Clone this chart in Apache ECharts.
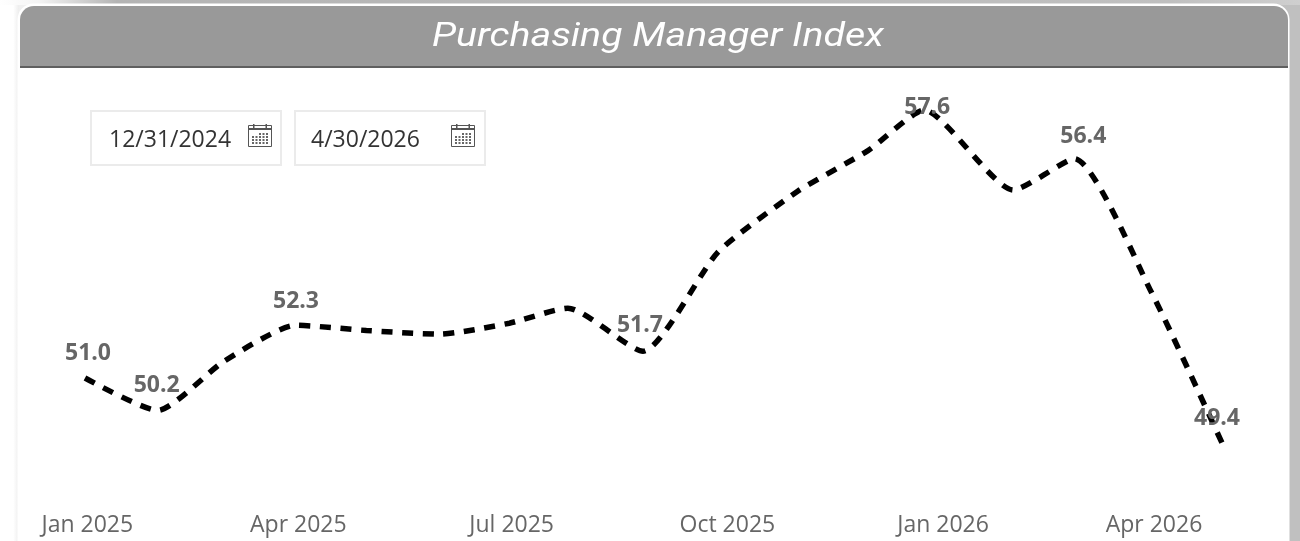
<!DOCTYPE html>
<html>
<head>
<meta charset="utf-8">
<style>html,body{margin:0;padding:0;background:#fff}#c{width:1300px;height:541px}</style>
<script src="https://cdn.jsdelivr.net/npm/echarts@6/dist/echarts.min.js"></script>
</head>
<body>
<div id="c"></div>
<script>
const titleText = 'Purchasing Manager Index';
const startDateText = '12/31/2024';
const endDateText = '4/30/2026';
const dates = ['2024-12-31','2025-01-31','2025-02-28','2025-03-31','2025-04-30','2025-05-31','2025-06-30','2025-07-25','2025-08-26','2025-09-27','2025-10-31','2025-11-30','2025-12-24','2026-01-31','2026-02-26','2026-03-31','2026-04-30'];
const values = [51.0,50.2,51.4,52.3,52.17,52.08,52.35,52.72,51.66,54.1,55.6,56.6,57.6,55.63,56.4,53.1,49.4];
const labelledDates = ['2024-12-31','2025-01-31','2025-03-31','2025-08-26','2025-12-24','2026-02-26','2026-04-30'];
const tickDates = ['2025-01-01','2025-04-01','2025-07-01','2025-10-01','2026-01-01','2026-04-01'];
const tickLabels = ['Jan 2025','Apr 2025','Jul 2025','Oct 2025','Jan 2026','Apr 2026'];
const ts = d => new Date(d + 'T00:00:00Z').getTime();
const tickMs = tickDates.map(ts);
const labelNudges = {'2024-12-31':[3,1],'2025-01-31':[-1,1],'2025-03-31':[0,2],'2025-08-26':[-3,0],'2025-12-24':[3,3],'2026-02-26':[9,4],'2026-04-30':[-5,1]};

const chart = echarts.init(document.getElementById('c'), null, {renderer:'canvas', width:1300, height:541});

function dateBox(x, text, iconX, textInset){
  const els = [
    {type:'rect', shape:{x:x+1,y:111,width:190,height:54}, style:{fill:'#fff',stroke:'#ebebeb',lineWidth:2}},
    {type:'text', style:{x:x+textInset,y:140,text:text,fill:'#333',font:'23px "Open Sans"',textVerticalAlign:'middle'}},
    {type:'rect', shape:{x:iconX+.5,y:125.5,width:23,height:21}, style:{fill:'#fff',stroke:'#555',lineWidth:1}},
    {type:'rect', shape:{x:iconX,y:128,width:24,height:2}, style:{fill:'#555'}},
    {type:'rect', shape:{x:iconX+5,y:124,width:1.5,height:4}, style:{fill:'#555'}},
    {type:'rect', shape:{x:iconX+17.5,y:124,width:1.5,height:4}, style:{fill:'#555'}}
  ];
  for(let r=0;r<4;r++)for(let c=0;c<5;c++){
    if(r===0&&c<2)continue;
    els.push({type:'rect',shape:{x:iconX+4+c*3.5,y:133+r*3,width:2,height:2},style:{fill:'#666'}});
  }
  return els;
}

const option = {
  animation:false,
  backgroundColor:'#fff',
  grid:{left:85,right:78,top:93.8,bottom:41.2},
  xAxis:{
    type:'value',
    min:ts(dates[0]),
    max:ts(dates[dates.length-1]),
    axisLine:{show:false},
    axisTick:{show:false},
    splitLine:{show:false},
    axisLabel:{
      customValues:tickMs,
      color:'#666',
      fontFamily:'"Open Sans"',
      fontSize:23,
      margin:14,
      hideOverlap:false,
      showMinLabel:true,
      showMaxLabel:true,
      formatter:v=>tickLabels[tickMs.indexOf(v)] || ''
    }
  },
  yAxis:{type:'value',min:48,max:58,show:false},
  series:[{
    type:'line',
    smooth:0.2,
    symbol:'circle',
    symbolSize:1,
    showSymbol:true,
    showAllSymbol:true,
    itemStyle:{color:'#000',opacity:0},
    clip:false,
    lineStyle:{color:'#000',width:5.5,type:[11,9.62],cap:'butt'},
    labelLayout:p=>{
      const n = labelNudges[dates[p.dataIndex]] || [0,0];
      return {hideOverlap:false,dx:n[0],dy:n[1]};
    },
    data:dates.map((d,i)=>({
      value:[ts(d),values[i]],
      label:{
        show:labelledDates.includes(d),
        position:'top',
        distance:d==='2025-12-24'?-6:14,
        formatter:values[i].toFixed(1),
        color:'#666',
        opacity:1,
        fontFamily:'"Open Sans"',
        fontWeight:700,
        fontSize:23
      }
    }))
  }],
  graphic:{elements:[
    {type:'rect',shape:{x:0,y:0,width:1300,height:541},style:{fill:'#c0c0c0'},z:-20},
    {type:'rect',shape:{x:0,y:0,width:1300,height:5},style:{fill:new echarts.graphic.LinearGradient(0,0,1,0,[{offset:0,color:'#ffffff'},{offset:.03,color:'#f4f4f4'},{offset:.09,color:'#b4b4b4'},{offset:.9,color:'#c0c0c0'},{offset:1,color:'#cfcfcf'}])},z:-19},
    {type:'rect',shape:{x:0,y:5,width:19,height:536},style:{fill:new echarts.graphic.LinearGradient(0,0,1,0,[{offset:0,color:'#ffffff'},{offset:.7,color:'#ffffff'},{offset:1,color:'#ededed'}])},z:-19},
    {type:'rect',shape:{x:19,y:5,width:18,height:18},style:{fill:'#f0f0f0'},z:-19},
    {type:'rect',shape:{x:18.5,y:4.5,width:1270,height:560,r:[15,15,0,0]},style:{fill:'#fff',stroke:'#fff',lineWidth:2},z:-18},
    {type:'rect',shape:{x:20,y:6,width:1268,height:60,r:[14,14,0,0]},style:{fill:'#999'},z:-17},
    {type:'rect',shape:{x:20,y:66,width:1268,height:2},style:{fill:'#5f5f5f'},z:-17},
    {type:'text',x:658,y:37,originX:0,originY:0,scaleX:1.155,style:{x:0,y:0,text:titleText,fill:'#fff',font:'italic 34px Roboto',textAlign:'center',textVerticalAlign:'middle'},z:-16},
    ...dateBox(90,startDateText,248,19),
    ...dateBox(294,endDateText,451,17)
  ]}
};
chart.setOption(option);
</script>
</body>
</html>
